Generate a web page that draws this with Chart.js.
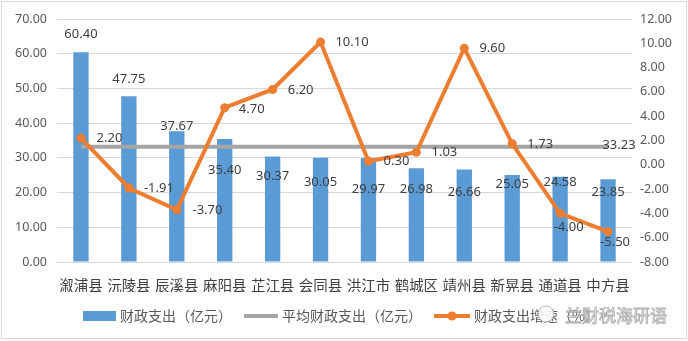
<!DOCTYPE html>
<html>
<head>
<meta charset="utf-8">
<script src="https://cdn.jsdelivr.net/npm/chart.js@4.4.0/dist/chart.umd.min.js"></script>
<style>
  html, body { margin: 0; padding: 0; background: #fff; }
  #wrap { width: 688px; height: 341px; position: relative; }
</style>
</head>
<body>
<div id="wrap"><canvas id="c" width="688" height="341"></canvas></div>
<script>
// data
const counties = ["溆浦县", "沅陵县", "辰溪县", "麻阳县", "芷江县", "会同县", "洪江市", "鹤城区", "靖州县", "新晃县", "通道县", "中方县"];
const spending = [60.40, 47.75, 37.67, 35.40, 30.37, 30.05, 29.97, 26.98, 26.66, 25.05, 24.58, 23.85];
const avgSpending = 33.23;
const growth = [2.20, -1.91, -3.70, 4.70, 6.20, 10.10, 0.30, 1.03, 9.60, 1.73, -4.00, -5.50];
const leftAxis = { min: 0, max: 70, step: 10 };
const rightAxis = { min: -8, max: 12, step: 2 };
const seriesNames = ["财政支出（亿元）", "平均财政支出（亿元）", "财政支出增速（%）"];

// label nudges (px), the way they sit in the original
const barLabelDy = [-18, -17, -4.6, 31.6, 20, 24.6, 31.3, 21, 23, 9.3, 5.6, 13];
const lineLabelOff = [[28.5, 0], [30, 0], [30.7, 1], [27, 1.3], [28, 0.5], [31.5, 0.6], [28, 0.5], [28, 0], [28, 0], [28, 0.5], [8.5, 14], [7, 11]];

const BLUE = "#5b9bd5", GRAY = "#a5a5a5", ORANGE = "#ed7d31";
const NUM_FONT = '"Noto Sans", "DejaVu Sans", sans-serif';
const CJK_FONT = '"Noto Sans CJK SC", "Noto Sans", sans-serif';

const avgLine = counties.map(() => avgSpending);

const labelsPlugin = {
  id: "labels",
  afterDatasetsDraw(chart) {
    const ctx = chart.ctx;
    ctx.save();
    ctx.font = "13px " + NUM_FONT;
    ctx.fillStyle = "#404040";
    ctx.textAlign = "center";
    ctx.textBaseline = "middle";
    chart.getDatasetMeta(2).data.forEach((bar, i) => {
      ctx.fillText(spending[i].toFixed(2), bar.x, bar.y + barLabelDy[i]);
    });
    chart.getDatasetMeta(0).data.forEach((pt, i) => {
      ctx.fillText(growth[i].toFixed(2), pt.x + lineLabelOff[i][0], pt.y + lineLabelOff[i][1]);
    });
    const avgPts = chart.getDatasetMeta(1).data;
    const last = avgPts[avgPts.length - 1];
    ctx.fillText(avgSpending.toFixed(2), last.x + 11, last.y - 1.5);
    ctx.restore();
  }
};

const framePlugin = {
  id: "frame",
  beforeDraw(chart) {
    const ctx = chart.ctx;
    ctx.save();
    ctx.fillStyle = "#fff";
    ctx.fillRect(0, 0, chart.width, chart.height);
    ctx.strokeStyle = "#d9d9d9";
    ctx.lineWidth = 1;
    ctx.strokeRect(1.5, 1.5, chart.width - 3, chart.height - 4);
    ctx.restore();
  },
  afterDraw(chart) {
    const ctx = chart.ctx;
    const y = 316;
    ctx.save();
    // legend
    ctx.fillStyle = BLUE;
    ctx.fillRect(83, y - 5, 33, 10);
    ctx.strokeStyle = GRAY;
    ctx.lineWidth = 4;
    ctx.beginPath(); ctx.moveTo(244, y); ctx.lineTo(278, y); ctx.stroke();
    ctx.strokeStyle = ORANGE;
    ctx.beginPath(); ctx.moveTo(434, y); ctx.lineTo(470, y); ctx.stroke();
    ctx.fillStyle = ORANGE;
    ctx.beginPath(); ctx.arc(452, y, 4.5, 0, Math.PI * 2); ctx.fill();
    ctx.font = "14px " + CJK_FONT;
    ctx.fillStyle = "#595959";
    ctx.textBaseline = "middle";
    ctx.fillText(seriesNames[0], 120, y);
    ctx.fillText(seriesNames[1], 282, y);
    ctx.fillText(seriesNames[2], 474, y);
    // watermark over the legend
    ctx.font = "17px " + CJK_FONT;
    ctx.lineWidth = 0.8;
    ctx.strokeStyle = "rgba(140,140,140,0.75)";
    ctx.fillStyle = "rgba(255,255,255,0.85)";
    ctx.beginPath(); ctx.arc(546, y - 2, 8, 0, Math.PI * 2); ctx.fill(); ctx.stroke();
    ctx.fillText("兰财税海研语", 565, y);
    ctx.strokeText("兰财税海研语", 565, y);
    ctx.restore();
  }
};

new Chart(document.getElementById("c"), {
  data: {
    labels: counties,
    datasets: [
      {
        type: "line", label: seriesNames[2], data: growth, yAxisID: "y2", order: 0,
        borderColor: ORANGE, backgroundColor: ORANGE, borderWidth: 4,
        pointRadius: 4.5, pointBackgroundColor: ORANGE, pointBorderWidth: 0, tension: 0
      },
      {
        type: "line", label: seriesNames[1], data: avgLine, yAxisID: "y", order: 1,
        borderColor: GRAY, borderWidth: 4, pointRadius: 0, tension: 0
      },
      {
        type: "bar", label: seriesNames[0], data: spending, yAxisID: "y", order: 2,
        backgroundColor: BLUE, barPercentage: 0.32, categoryPercentage: 1
      }
    ]
  },
  options: {
    responsive: false,
    animation: false,
    devicePixelRatio: 1,
    layout: { padding: { top: 19, bottom: 49, left: 0, right: 0 } },
    plugins: { legend: { display: false }, tooltip: { enabled: false } },
    scales: {
      x: {
        grid: { display: false },
        border: { display: false },
        ticks: { color: "#404040", font: { family: CJK_FONT, size: 14.5 }, padding: 7, maxRotation: 0, autoSkip: false },
        afterFit(s) { s.height = 30; }
      },
      y: {
        position: "left",
        min: leftAxis.min, max: leftAxis.max,
        grid: { color: "#d9d9d9", lineWidth: 1, drawTicks: false },
        border: { display: false },
        ticks: { stepSize: leftAxis.step, color: "#595959", font: { family: NUM_FONT, size: 12.5 }, padding: 10, callback: v => v.toFixed(2) },
        afterFit(s) { s.width = 57; }
      },
      y2: {
        position: "right",
        min: rightAxis.min, max: rightAxis.max,
        grid: { display: false, drawTicks: false },
        border: { display: false },
        ticks: { stepSize: rightAxis.step, color: "#595959", font: { family: NUM_FONT, size: 12.5 }, padding: 8, callback: v => v.toFixed(2) },
        afterFit(s) { s.width = 56; }
      }
    }
  },
  plugins: [framePlugin, labelsPlugin]
});
</script>
</body>
</html>
